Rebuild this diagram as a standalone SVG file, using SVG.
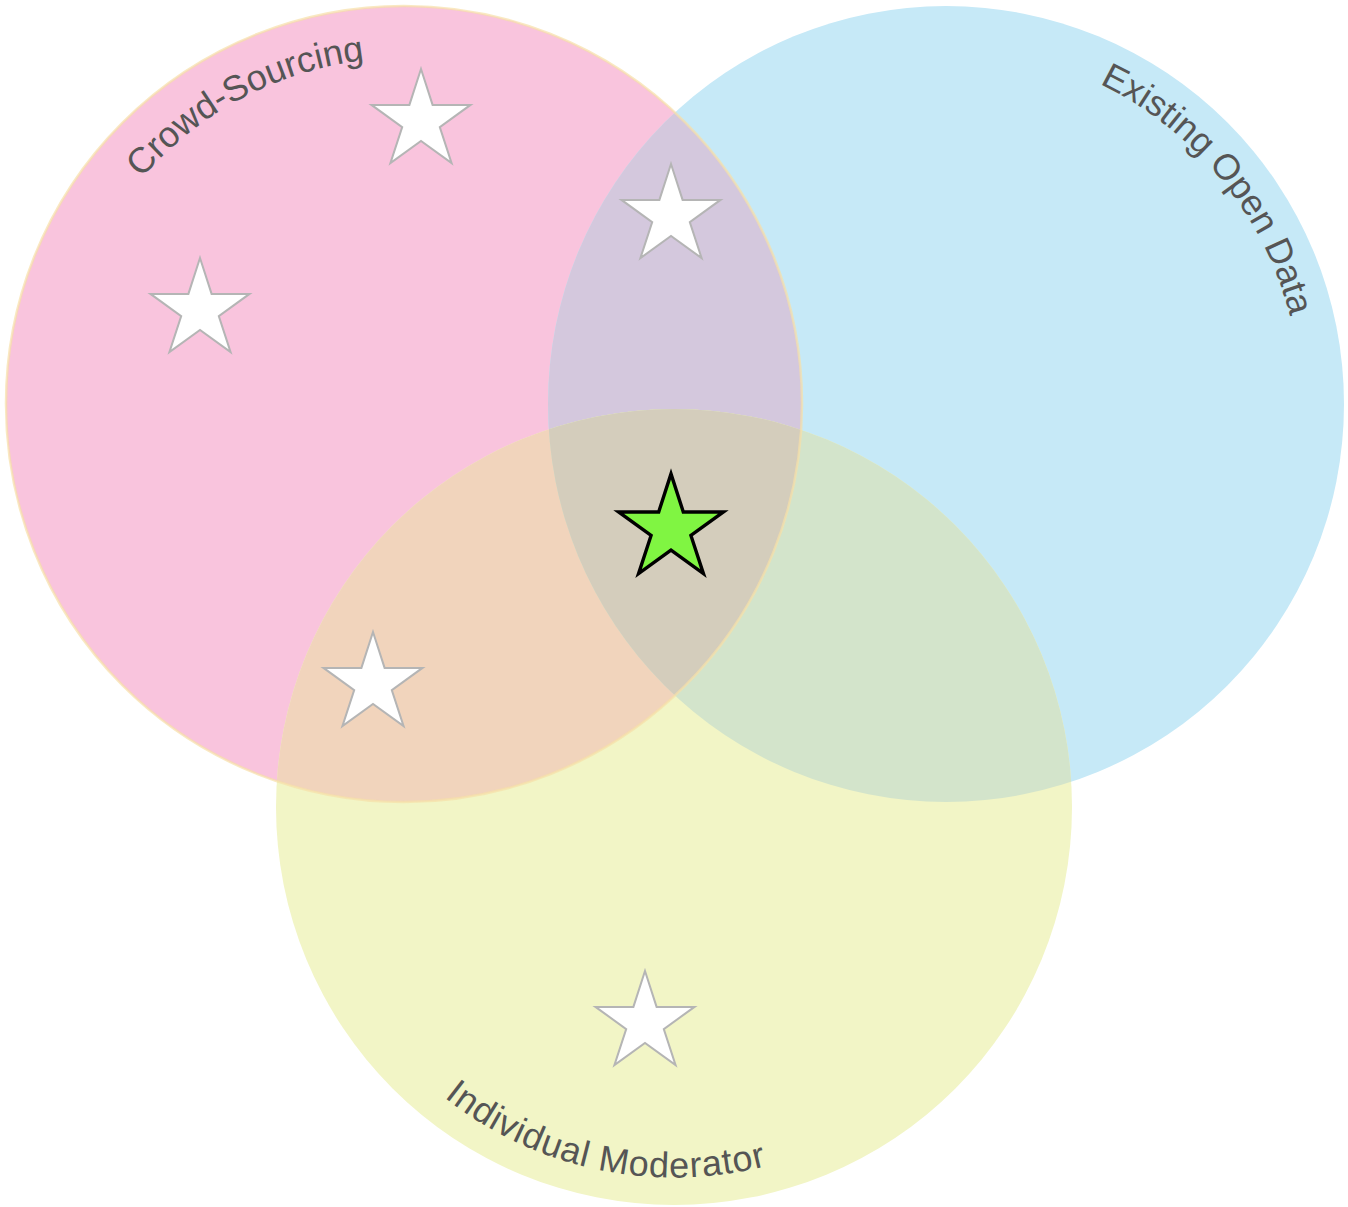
<svg xmlns="http://www.w3.org/2000/svg" xmlns:xlink="http://www.w3.org/1999/xlink" width="1348" height="1207" viewBox="0 0 1348 1207">
<style>
.lbl{font-family:"Liberation Sans",Arial,sans-serif;font-size:36px;fill:#555555}
.star{fill:#ffffff;stroke:#b5b5b5;stroke-width:2;stroke-linejoin:miter}
.goal{fill:#80f542;stroke:#000000;stroke-width:3.2;stroke-linejoin:miter}
</style>
<defs>
<polygon id="st" points="0,-52 11.6,-16.1 49.5,-16.1 18.8,6.1 30.6,42.1 0,19.9 -30.6,42.1 -18.8,6.1 -49.5,-16.1 -11.6,-16.1"/>
<clipPath id="cp-pink"><circle cx="404" cy="404" r="398"/></clipPath>
<clipPath id="cp-blue"><circle cx="946" cy="404" r="398"/></clipPath>
<path id="p-crowd" d="M 141.7 178.4 A 346 346 0 0 1 583 108"/>
<path id="p-open" d="M 1099.4 83.9 A 355 355 0 0 1 1295.6 465.6"/>
<path id="p-mod" d="M 444 1097.3 A 371 371 0 0 0 958.2 1045.5"/>
</defs>
<g id="crowd-sourcing">
<circle cx="404" cy="404" r="398" fill="#f9c4dd"/>
</g>
<g id="existing-open-data">
<circle cx="946" cy="404" r="398" fill="#c6e9f7"/>
<circle cx="946" cy="404" r="398" fill="#d4c8dd" clip-path="url(#cp-pink)"/>
</g>
<g id="individual-moderator">
<circle cx="674" cy="807" r="398" fill="#f2f5c6"/>
<circle cx="674" cy="807" r="398" fill="#f1d4bc" clip-path="url(#cp-pink)"/>
<circle cx="674" cy="807" r="398" fill="#d3e4cb" clip-path="url(#cp-blue)"/>
<g clip-path="url(#cp-pink)"><circle cx="674" cy="807" r="398" fill="#d4cdbc" clip-path="url(#cp-blue)"/></g>
</g>
<g id="crowd-outline">
<circle cx="404" cy="404" r="398" fill="none" stroke="#f7e0a8" stroke-opacity="0.7" stroke-width="2.5"/>
</g>
<g id="labels">
<text class="lbl"><textPath xlink:href="#p-crowd" href="#p-crowd">Crowd-Sourcing</textPath></text>
<text class="lbl"><textPath xlink:href="#p-open" href="#p-open">Existing Open Data</textPath></text>
<text class="lbl" letter-spacing="0.8"><textPath xlink:href="#p-mod" href="#p-mod">Individual Moderator</textPath></text>
</g>
<g id="stars">
<use class="star" href="#st" xlink:href="#st" transform="translate(421,121)"/>
<use class="star" href="#st" xlink:href="#st" transform="translate(671,216)"/>
<use class="star" href="#st" xlink:href="#st" transform="translate(200,310)"/>
<use class="star" href="#st" xlink:href="#st" transform="translate(373,684)"/>
<use class="star" href="#st" xlink:href="#st" transform="translate(645,1023)"/>
<use class="goal" href="#st" xlink:href="#st" transform="translate(671,529) scale(1.06)"/>
</g>
<g id="connectors"></g>
</svg>
